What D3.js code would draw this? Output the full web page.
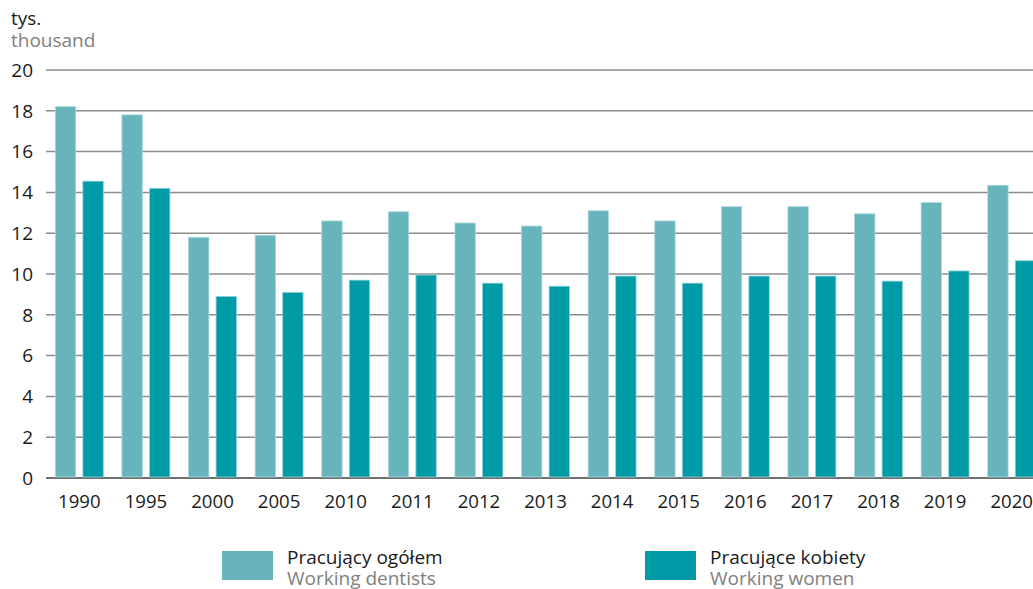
<!DOCTYPE html>
<html><head><meta charset="utf-8">
<script src="https://cdn.jsdelivr.net/npm/d3@7"></script>
<style>
html,body{margin:0;padding:0;background:#fff;}
svg{display:block;font-family:"Open Sans","Noto Sans",sans-serif;}
</style></head>
<body>
<svg id="c" width="1033" height="589"></svg>
<script>
const years = ["1990","1995","2000","2005","2010","2011","2012","2013","2014","2015","2016","2017","2018","2019","2020"];
const totalDentists = [18.2,17.8,11.8,11.9,12.6,13.05,12.5,12.35,13.1,12.6,13.3,13.3,12.95,13.5,14.35];
const womenDentists = [14.55,14.2,8.9,9.1,9.7,9.95,9.55,9.4,9.9,9.55,9.9,9.9,9.65,10.15,10.65];
const yTicks = [0,2,4,6,8,10,12,14,16,18,20];
const seriesNames = [["Pracujący ogółem","Working dentists"],["Pracujące kobiety","Working women"]];
const colors = ["#67b4bd","#009ba6"];

(function(){
const svg = d3.select("#c");
const mLeft = 46, mRight = 1045, mTop = 70, mBottom = 478;

const x = d3.scaleBand().domain(years).range([mLeft, mRight]).paddingInner(0.28).paddingOuter(0.14);
const xs = d3.scaleBand().domain([0,1]).range([0, x.bandwidth()]).paddingInner(0.26).paddingOuter(0);
const y = d3.scaleLinear().domain([0,20]).range([mBottom, mTop]);

svg.append("g").selectAll("line").data(yTicks).join("line")
  .attr("x1", mLeft).attr("x2", 1033)
  .attr("y1", d => y(d)).attr("y2", d => y(d))
  .attr("stroke", d => d === 0 ? "#6f6f6f" : "#8c8c8c")
  .attr("stroke-width", d => d === 0 ? 2 : 1.5);

svg.append("g").selectAll("text").data(yTicks).join("text")
  .attr("x", 33).attr("y", d => y(d)).attr("dy", "0.36em")
  .attr("text-anchor", "end").attr("font-size", 19).attr("fill", "#1a1a1a")
  .text(d => d);

const data = years.map((yr, i) => ({yr, vals: [totalDentists[i], womenDentists[i]]}));
const groups = svg.append("g").selectAll("g").data(data).join("g")
  .attr("transform", d => `translate(${x(d.yr)},0)`);
groups.selectAll("rect").data(d => d.vals.map((v, k) => ({v, k}))).join("rect")
  .attr("x", d => xs(d.k)).attr("width", xs.bandwidth())
  .attr("y", d => y(d.v)).attr("height", d => y(0) - y(d.v) - 1)
  .attr("fill", d => colors[d.k])
  .attr("stroke", d => d.k === 0 ? "#a9d9de" : "#8fd3d8").attr("stroke-width", 0.8);

svg.append("g").selectAll("text").data(years).join("text")
  .attr("x", d => x(d) + x.bandwidth()/2).attr("y", 507.5)
  .attr("text-anchor", "middle").attr("font-size", 18.6).attr("fill", "#1a1a1a")
  .text(d => d);

svg.append("text").attr("x", 11).attr("y", 25).attr("font-size", 19).attr("fill", "#1a1a1a").text("tys.");
svg.append("text").attr("x", 11).attr("y", 47).attr("font-size", 19).attr("fill", "#808080").text("thousand");

const legX = [222, 645];
seriesNames.forEach((n, k) => {
  const g = svg.append("g").attr("transform", `translate(${legX[k]},0)`);
  g.append("rect").attr("x", 0).attr("y", 551).attr("width", 51).attr("height", 29).attr("fill", colors[k]);
  g.append("text").attr("x", 65).attr("y", 564).attr("font-size", 19).attr("fill", "#1a1a1a").text(n[0]);
  g.append("text").attr("x", 65).attr("y", 585).attr("font-size", 19).attr("fill", "#808080").text(n[1]);
});
})();
</script>
</body></html>
